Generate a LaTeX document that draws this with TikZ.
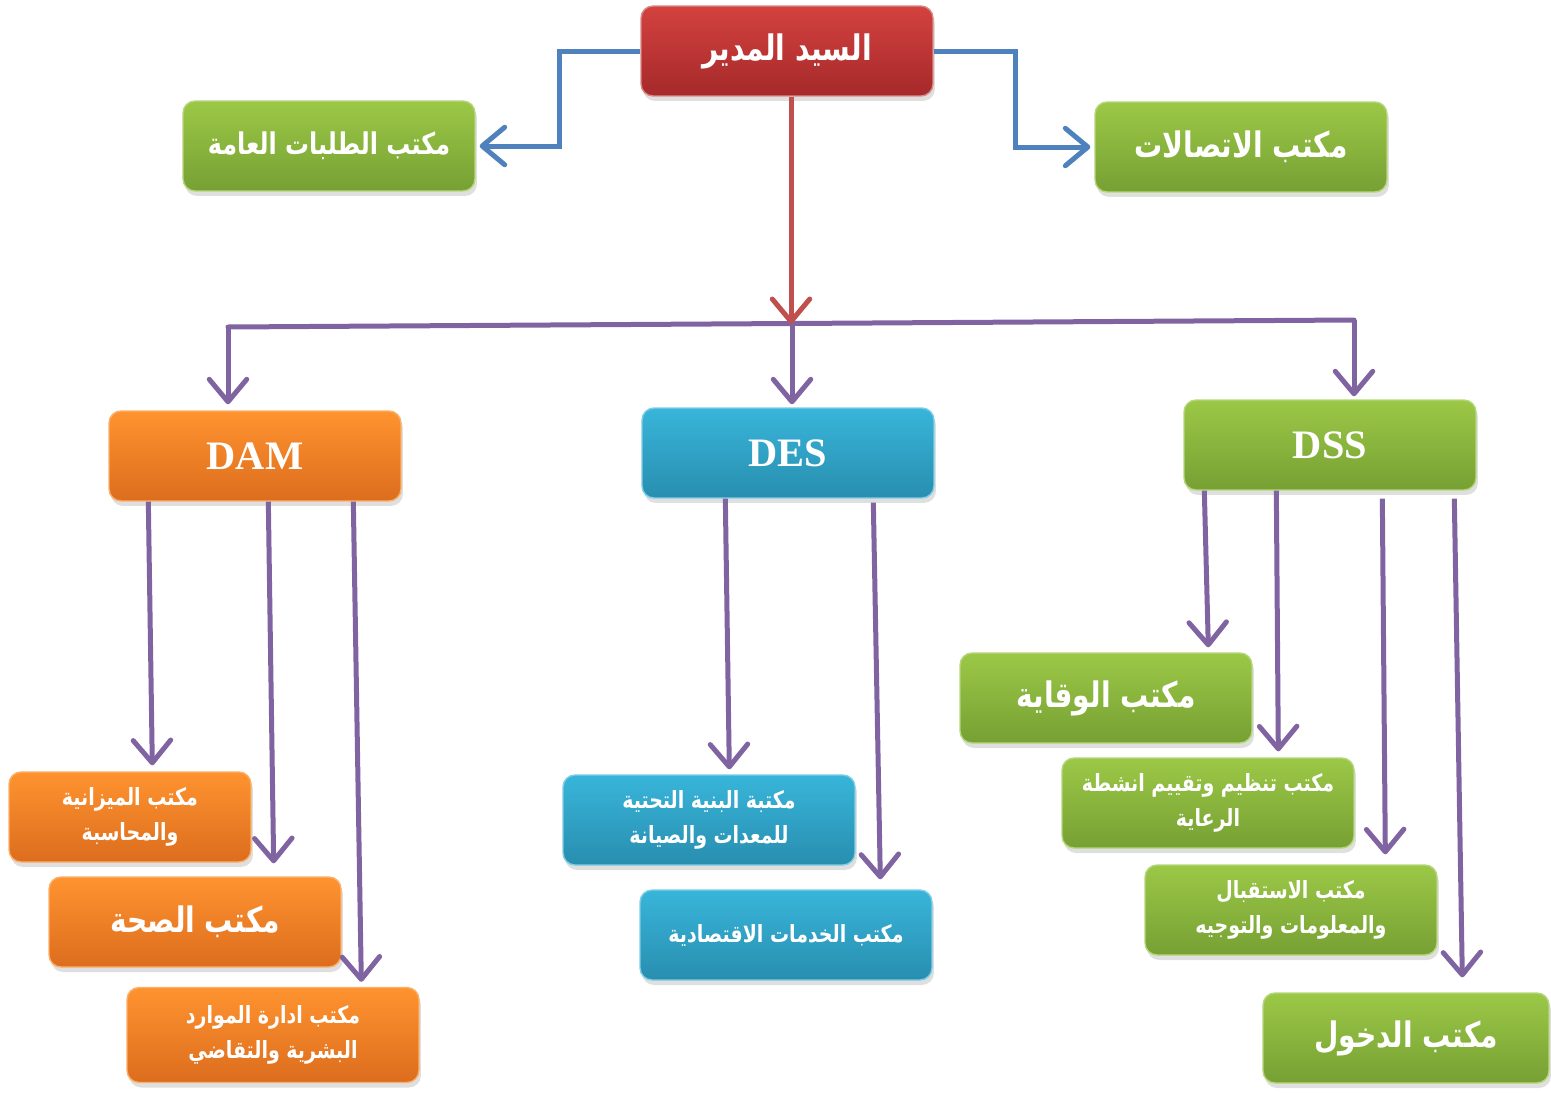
\documentclass[tikz,border=0pt]{standalone}
\usepackage{fontspec}
\usepackage{tikz}
\usetikzlibrary{arrows.meta,calc,shadows,positioning}
\newfontfamily\arabicfont[Script=Arabic,FakeStretch=0.8]{DejaVu Sans}
\newfontfamily\latinfont{Liberation Serif}
\TeXXeTstate=1
\newcommand{\artxt}[1]{\beginR #1\endR}

\definecolor{redtop}{HTML}{D3423F}
\definecolor{redbot}{HTML}{A6292A}
\definecolor{redrim}{HTML}{D98A88}
\definecolor{grntop}{HTML}{9CC847}
\definecolor{grnbot}{HTML}{76A033}
\definecolor{grnrim}{HTML}{B5D67A}
\definecolor{orgtop}{HTML}{FF932F}
\definecolor{orgbot}{HTML}{DC6D1E}
\definecolor{orgrim}{HTML}{FBB06A}
\definecolor{blutop}{HTML}{38B5DA}
\definecolor{blubot}{HTML}{288EAF}
\definecolor{blurim}{HTML}{7FCDE6}
\definecolor{bluline}{HTML}{4F81BD}
\definecolor{redline}{HTML}{C0504D}
\definecolor{purline}{HTML}{8064A2}

\tikzset{
  box/.style={rounded corners=0.24cm, minimum width=5.84cm, minimum height=1.8cm,
    align=center, text=white, line width=0.8pt,
    drop shadow={opacity=0.25, shadow xshift=0.04cm, shadow yshift=-0.1cm}},
  redbox/.style={box, top color=redtop, bottom color=redbot, draw=redrim},
  grnbox/.style={box, top color=grntop, bottom color=grnbot, draw=grnrim},
  orgbox/.style={box, top color=orgtop, bottom color=orgbot, draw=orgrim},
  blubox/.style={box, top color=blutop, bottom color=blubot, draw=blurim},
  bigtxt/.style={font=\arabicfont\bfseries\fontsize{20}{24}\selectfont},
  midtxt/.style={font=\arabicfont\bfseries\fontsize{17}{22}\selectfont},
  smalltxt/.style={font=\arabicfont\bfseries\fontsize{13.5}{20}\selectfont},
  abbr/.style={font=\latinfont\bfseries\fontsize{23}{28}\selectfont},
  link/.style={line width=0.1cm, -{Straight Barb[round,length=0.45cm,width=0.75cm]}},
}

\begin{document}
\begin{tikzpicture}[x=0.02cm, y=-0.02cm]
\useasboundingbox (0,0) rectangle (1551,1092);
\node[redbox, bigtxt] (dir) at (787,51) {\artxt{السيد المدير}};
\node[grnbox, midtxt] (gen) at (329,146) {\artxt{مكتب الطلبات العامة}};
\node[grnbox, bigtxt] (com) at (1241,147) {\artxt{مكتب الاتصالات}};
\node[orgbox, abbr] (dam) at (255,456) {DAM};
\node[blubox, abbr] (des) at (788,453) {DES};
\node[grnbox, abbr] (dss) at (1330,445) {DSS};
\node[orgbox, smalltxt, minimum width=4.84cm] (budget) at (130,817) {\artxt{مكتب الميزانية}\\ \artxt{والمحاسبة}};
\node[orgbox, bigtxt] (health) at (195,922) {\artxt{مكتب الصحة}};
\node[orgbox, smalltxt, minimum height=1.9cm] (hr) at (273,1035) {\artxt{مكتب ادارة الموارد}\\ \artxt{البشرية والتقاضي}};
\node[blubox, smalltxt] (infra) at (709,820) {\artxt{مكتبة البنية التحتية}\\ \artxt{للمعدات والصيانة}};
\node[blubox, smalltxt] (eco) at (786,935) {\artxt{مكتب الخدمات الاقتصادية}};
\node[grnbox, bigtxt] (prev) at (1106,698) {\artxt{مكتب الوقاية}};
\node[grnbox, smalltxt] (care) at (1208,803) {\artxt{مكتب تنظيم وتقييم انشطة}\\ \artxt{الرعاية}};
\node[grnbox, smalltxt] (recep) at (1291,910) {\artxt{مكتب الاستقبال}\\ \artxt{والمعلومات والتوجيه}};
\node[grnbox, bigtxt, minimum width=5.72cm] (access) at (1406,1038) {\artxt{مكتب الدخول}};

\draw[link, bluline, shorten >=0.08cm] (dir.west) -- ++(-81,0) |- (gen.east);
\draw[link, bluline, shorten >=0.08cm] (dir.east) -- ++(82,0) |- (com.west);

\coordinate (busL) at (228,327);
\coordinate (busM) at (792,324);
\coordinate (busR) at (1354,320);
\draw[purline, line width=0.1cm, line cap=round] (busL) -- (busR);
\draw[link, redline] ([xshift=0.08cm]dir.south) -- ([xshift=0.08cm]dir.south |- busM);
\draw[link, purline, shorten >=0.12cm] (busL) -- (busL |- dam.north);
\draw[link, purline, shorten >=0.06cm] (busM) -- (busM |- des.north);
\draw[link, purline, shorten >=0.06cm] (busR) -- (busR |- dss.north);

\draw[link, purline] ($(dam.south west)+(40,0)$) -- ($(budget.north west)+(144,-6)$);
\draw[link, purline] ($(dam.south west)+(160,0)$) -- ($(health.north east)+(-68,-13)$);
\draw[link, purline] ($(dam.south west)+(245,0)$) -- ($(hr.north west)+(235,-5)$);
\draw[link, purline] ($(des.south west)+(84,0)$) -- ($(infra.north west)+(167,-5)$);
\draw[link, purline] ($(des.south west)+(232,4)$) -- ($(eco.north west)+(241,-10)$);
\draw[link, purline] ($(dss.south west)+(21,0)$) -- ($(prev.north west)+(249,-5)$);
\draw[link, purline] ($(dss.south west)+(93,0)$) -- ($(care.north west)+(217,-6)$);
\draw[link, purline] ($(dss.south west)+(199,8)$) -- ($(recep.north west)+(241,-10)$);
\draw[link, purline] ($(dss.south west)+(271,8)$) -- ($(access.north west)+(200,-15)$);
\end{tikzpicture}
\end{document}
